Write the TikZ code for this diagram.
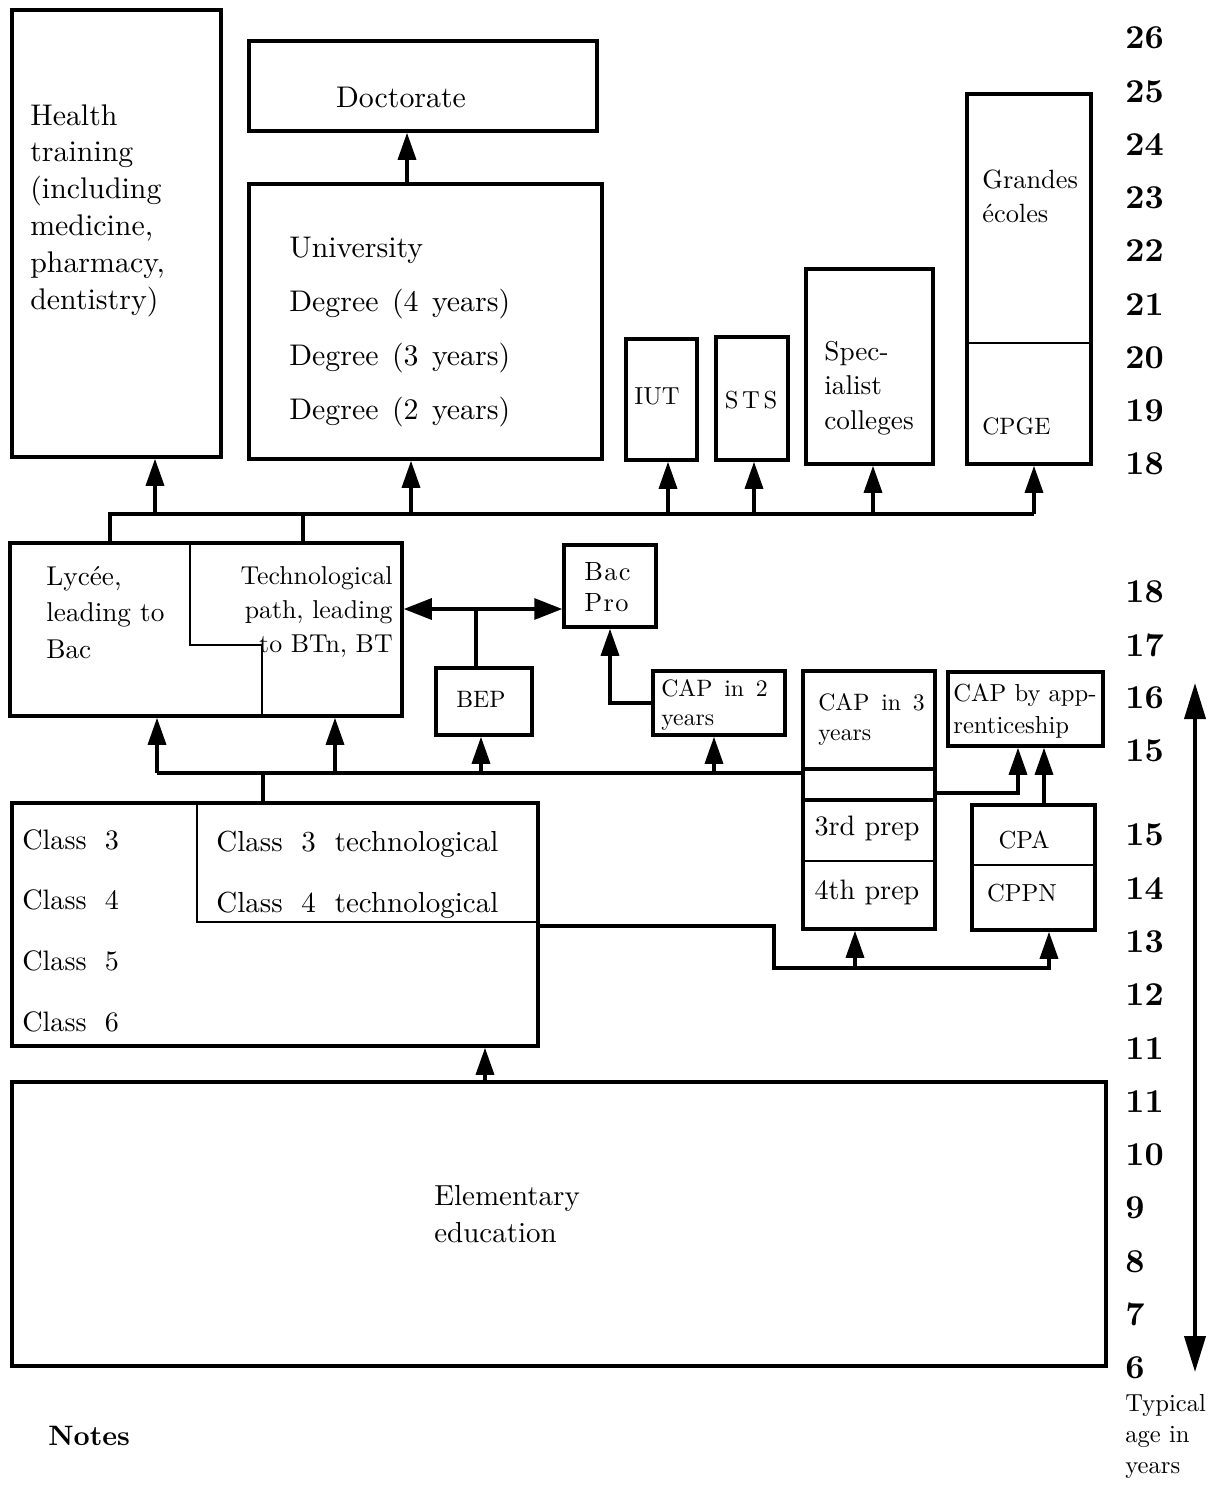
\documentclass[tikz,border=0pt]{standalone}
\usepackage{fontspec}
\setmainfont{lmroman10}[Extension=.otf, UprightFont=*-regular, BoldFont=*-bold, ItalicFont=*-italic]
\usetikzlibrary{arrows.meta}
\newcommand\fsz[2]{\fontsize{#1}{#2}\selectfont}
\newcommand\wsp[1]{\spaceskip=#1em\relax}
\begin{document}
\begin{tikzpicture}[x=0.02cm, y=-0.02cm,
  box/.style 2 args={draw, line width=2pt, inner sep=0pt, minimum width=#1*0.02cm, minimum height=#2*0.02cm},
  lbl/.style={inner sep=0pt, align=left, anchor=north west},
  txt/.style={inner sep=0pt},
  wire/.style={line width=1.9pt},
  arw/.style={line width=1.9pt, -{Triangle[length=0.54cm,width=0.36cm]}},
  sep/.style={line width=0.6pt},
  age/.style={inner sep=0pt, anchor=west, font=\fsz{19}{22}\bfseries}]
\useasboundingbox (0,0) rectangle (1213,1485);
\node[box={209}{447}] (health) at (116.5,233.5) {};
\node[box={348}{90}] (doct) at (423,86) {};
\node[box={353}{275}] (univ) at (425.5,321.5) {};
\node[box={71}{121}] (iut) at (661.5,399.5) {};
\node[box={72}{123}] (sts) at (752,398.5) {};
\node[box={127}{195}] (spec) at (869.5,366.5) {};
\node[box={124}{370}] (grand) at (1029,279) {};
\node[box={392}{173}] (lycee) at (206,629.5) {};
\node[box={92}{82}] (bacpro) at (610,586) {};
\node[box={96}{67}] (bep) at (484,701.5) {};
\node[box={132}{64}] (cap2) at (719,703) {};
\node[box={132}{258}] (cap3) at (869,800) {};
\node[box={155}{74}] (capapp) at (1025.5,709) {};
\node[box={123}{125}] (cpa) at (1033.5,867.5) {};
\node[box={526}{243}] (college) at (275,924.5) {};
\node[box={1094}{284}] (elem) at (559,1224) {};
\node[lbl, font=\fsz{17}{21}] (healthtxt) at (30,104) {Health\\training\\(including\\medicine,\\pharmacy,\\dentistry)};
\node[txt, font=\fsz{17}{21}] (docttxt) at (401,97) {Doctorate};
\node[lbl, font=\fsz{17}{30.6}\wsp{0.45}] (univtxt) at (289,237) {University\\Degree (4 years)\\Degree (3 years)\\Degree (2 years)};
\node[txt, font=\fsz{14}{17}] (iuttxt) at (657,396) {IUT};
\node[txt, font=\fsz{14}{17}\addfontfeature{LetterSpace=15}] (ststxt) at (751,400) {STS};
\node[lbl, font=\fsz{15.5}{19.6}] (spectxt) at (824,341) {Spec-\\ialist\\colleges};
\node[lbl, font=\fsz{15}{19.3}] (grandtxt) at (982,170) {Grandes\\écoles};
\node[txt, anchor=west, font=\fsz{13.5}{16}] (cpgetxt) at (982,426) {CPGE};
\node[lbl, font=\fsz{15.5}{20.7}] (lyceetxt) at (46,566) {Lycée,\\leading to\\Bac};
\node[lbl, anchor=north east, align=right, font=\fsz{14.7}{19.3}] (techtxt) at (393,566) {Technological\\path, leading\\to BTn, BT};
\node[lbl, font=\fsz{15}{17.6}\addfontfeature{LetterSpace=5}] (bacprotxt) at (584,562) {Bac\\Pro};
\node[txt, font=\fsz{13.5}{16}] (beptxt) at (481,699) {BEP};
\node[lbl, font=\fsz{13.5}{16.5}\wsp{0.5}] (cap2txt) at (661,679) {CAP in 2\\years};
\node[lbl, font=\fsz{13.5}{17}\wsp{0.5}] (cap3txt) at (818,693) {CAP in 3\\years};
\node[txt, font=\fsz{16}{19}] (prep3) at (867,828) {3rd prep};
\node[txt, font=\fsz{16}{19}] (prep4) at (867,892) {4th prep};
\node[lbl, font=\fsz{14}{18}] (capapptxt) at (953,684) {CAP by app-\\renticeship};
\node[txt, font=\fsz{14}{17}] (cpatxt) at (1024,840) {CPA};
\node[txt, font=\fsz{14}{17}] (cppntxt) at (1022,893) {CPPN};
\node[lbl, font=\fsz{16}{34.6}\wsp{0.65}] (classtxt) at (22,829) {Class 3\\Class 4\\Class 5\\Class 6};
\node[lbl, font=\fsz{16.5}{34.6}\wsp{0.65}] (techclasstxt) at (216,831) {Class 3 technological\\Class 4 technological};
\node[lbl, font=\fsz{16.5}{21}] (elemtxt) at (434,1185) {Elementary\\education};
\node[txt, anchor=west, font=\fsz{16}{19}\bfseries] (notes) at (48,1436) {Notes};
\node[lbl, font=\fsz{14}{17.6}] (typtxt) at (1125,1394) {Typical\\age in\\years};
\foreach \a [count=\i from 0] in {26,25,24,23,22,21,20,19,18}
  \node[age] (agetop\i) at (1125,38+53.25*\i) {\a};
\foreach \a [count=\i from 0] in {18,17,16,15}
  \node[age] (agemid\i) at (1125,592+53*\i) {\a};
\foreach \a [count=\i from 0] in {15,14,13,12,11,11,10,9,8,7,6}
  \node[age] (agelow\i) at (1125,835+53.3*\i) {\a};
\coordinate (axtop) at (1195,683);
\coordinate (axbot) at (1195,1372);
\draw[line width=2.2pt, {Triangle[length=0.72cm,width=0.42cm]}-{Triangle[length=0.72cm,width=0.42cm]}] (axtop) -- (axbot);
\coordinate (gd) at (1029,343);
\draw[sep] (gd -| grand.west) -- (gd -| grand.east);
\coordinate (c3a) at (869,769);
\coordinate (c3b) at (869,800);
\coordinate (c3c) at (869,861);
\draw[wire] (c3a -| cap3.west) -- (c3a -| cap3.east);
\draw[wire] (c3b -| cap3.west) -- (c3b -| cap3.east);
\draw[sep] (c3c -| cap3.west) -- (c3c -| cap3.east);
\coordinate (cpd) at (1033,865);
\draw[sep] (cpd -| cpa.west) -- (cpd -| cpa.east);
\coordinate (lt) at (190,645);
\coordinate (lu) at (262,645);
\draw[sep] (lt |- lycee.north) -- (lt) -- (lu) -- (lu |- lycee.south);
\coordinate (ct) at (197,922);
\draw[sep] (ct |- college.north) -- (ct) -- (ct -| college.east);
\coordinate (ud) at (407,184);
\draw[arw] (ud |- univ.north) -- (ud |- doct.south);
\coordinate (busl) at (110,514);
\coordinate (busm) at (303,514);
\coordinate (busr) at (1034,514);
\draw[wire] (busl |- lycee.north) -- (busl) -- (busr);
\draw[wire] (busm) -- (busm |- lycee.north);
\foreach \x/\n in {155/health, 411/univ, 668/iut, 754/sts, 873/spec, 1034/grand} {
  \coordinate (up\n) at (\x,514);
  \draw[arw] (up\n) -- (up\n |- \n.south);
}
\coordinate (dj) at (476,609);
\draw[line width=1.9pt, -{Triangle[length=0.56cm,width=0.42cm]}] (dj) -- (dj -| lycee.east);
\draw[line width=1.9pt, -{Triangle[length=0.56cm,width=0.42cm]}] (dj) -- (dj -| bacpro.west);
\draw[wire] (dj) -- (dj |- bep.north);
\draw[arw] (cap2.west) -| (bacpro.south);
\coordinate (bus2l) at (157,773);
\coordinate (bus2m) at (263,773);
\draw[wire] (bus2l) -- (bus2l -| cap3.west);
\draw[wire] (bus2m |- college.north) -- (bus2m);
\foreach \x/\n in {157/lycee, 335/lycee, 481/bep, 714/cap2} {
  \coordinate (lo\x) at (\x,773);
  \draw[arw] (lo\x) -- (lo\x |- \n.south);
}
\coordinate (ca) at (1018,793);
\draw[arw] (ca -| cap3.east) -- (ca) -- (ca |- capapp.south);
\coordinate (cb) at (1044,790);
\draw[arw] (cb |- cpa.north) -- (cb |- capapp.south);
\coordinate (rt) at (774,926);
\coordinate (rb) at (774,968);
\coordinate (rr) at (1049,968);
\draw[arw] (rt -| college.east) -- (rt) -- (rb) -- (rr) -- (rr |- cpa.south);
\coordinate (r3) at (855,968);
\draw[arw] (r3) -- (r3 |- cap3.south);
\coordinate (ue) at (485,1082);
\draw[arw] (ue |- elem.north) -- (ue |- college.south);
\end{tikzpicture}
\end{document}
